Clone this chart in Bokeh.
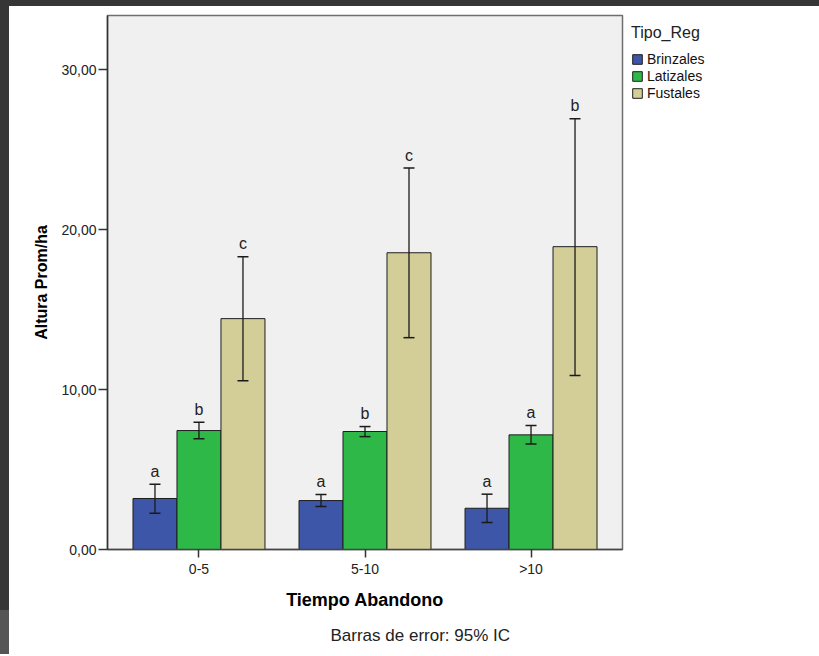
from bokeh.plotting import figure
from bokeh.models import (ColumnDataSource, FactorRange, Range1d, FixedTicker, Whisker, TeeHead,
                          Legend, LegendItem, Title, Div)
from bokeh.layouts import column, row
from bokeh.transform import dodge
from bokeh.core.properties import value
from bokeh.embed import file_html
from bokeh.resources import INLINE

# ---- data ----
categories = ["0-5", "5-10", ">10"]
series_names = ["Brinzales", "Latizales", "Fustales"]

brinzales = [3.19, 3.06, 2.58]
brinzales_lo = [2.27, 2.69, 1.69]
brinzales_hi = [4.08, 3.44, 3.46]
brinzales_letters = ["a", "a", "a"]

latizales = [7.44, 7.38, 7.17]
latizales_lo = [6.92, 7.06, 6.60]
latizales_hi = [7.96, 7.69, 7.75]
latizales_letters = ["b", "b", "a"]

fustales = [14.44, 18.56, 18.94]
fustales_lo = [10.56, 13.25, 10.88]
fustales_hi = [18.31, 23.86, 26.94]
fustales_letters = ["c", "c", "b"]

y_ticks = [0, 10, 20, 30]
y_tick_labels = ["0,00", "10,00", "20,00", "30,00"]

x_title = "Tiempo Abandono"
y_title = "Altura Prom/ha"
legend_title = "Tipo_Reg"
note = "Barras de error: 95% IC"

# ---- styling ----
FONT = "Liberation Sans"
colors = ["#3D56A8", "#2EB848", "#D3CE97"]
bar_w = 0.265
offsets = [-bar_w, 0.0, bar_w]

p = figure(frame_width=515, frame_height=534,
           x_range=FactorRange(factors=categories, range_padding=0.034),
           y_range=Range1d(0, 33.4),
           output_backend="svg", toolbar_location=None,
           min_border_left=98, min_border_right=186, min_border_top=9, min_border_bottom=105)

p.background_fill_color = "#F0F0F0"
p.border_fill_color = "white"
p.outline_line_color = "#6E6E6E"
p.outline_line_width = 1.5
p.xgrid.visible = False
p.ygrid.visible = False

series = [
    (brinzales, brinzales_lo, brinzales_hi, brinzales_letters),
    (latizales, latizales_lo, latizales_hi, latizales_letters),
    (fustales, fustales_lo, fustales_hi, fustales_letters),
]

items = []
for (vals, lo, hi, letters), name, col, off in zip(series, series_names, colors, offsets):
    src = ColumnDataSource(dict(cat=categories, val=vals, lo=lo, hi=hi, let=letters))
    xs = dodge("cat", off, range=p.x_range)
    r = p.vbar(x=xs, top="val", width=bar_w, source=src,
               fill_color=col, line_color="#1E1E1E", line_width=1)
    items.append(LegendItem(label=name, renderers=[r]))
    w = Whisker(source=src, base=xs, upper="hi", lower="lo", level="overlay",
                line_color="#1A1A1A", line_width=1.3,
                upper_head=TeeHead(size=11, line_color="#1A1A1A", line_width=1.5),
                lower_head=TeeHead(size=11, line_color="#1A1A1A", line_width=1.5))
    p.add_layout(w)
    p.text(x=xs, y="hi", text="let", source=src, text_align="center",
           text_baseline="alphabetic", y_offset=-13,
           text_font=value(FONT), text_font_size="16px", text_color="#222222")

# y axis
p.yaxis.ticker = FixedTicker(ticks=y_ticks)
p.yaxis.major_label_overrides = {t: l for t, l in zip(y_ticks, y_tick_labels)}
p.yaxis.minor_tick_line_color = None
p.yaxis.major_tick_in = 0
p.yaxis.major_tick_out = 9
p.yaxis.major_tick_line_color = "#333333"
p.yaxis.major_tick_line_width = 1.5
p.yaxis.axis_line_color = "#333333"
p.yaxis.axis_line_width = 1.5
p.yaxis.major_label_standoff = 2
p.yaxis.major_label_text_font = FONT
p.yaxis.major_label_text_font_size = "14px"
p.yaxis.major_label_text_color = "#222222"
p.yaxis.axis_label = y_title
p.yaxis.axis_label_text_font = FONT
p.yaxis.axis_label_text_font_size = "16px"
p.yaxis.axis_label_text_font_style = "bold"
p.yaxis.axis_label_text_color = "#000000"
p.yaxis.axis_label_standoff = 8

# x axis
p.xaxis.major_tick_in = 0
p.xaxis.major_tick_out = 8
p.xaxis.major_tick_line_color = "#333333"
p.xaxis.major_tick_line_width = 1.5
p.xaxis.axis_line_color = "#444444"
p.xaxis.axis_line_width = 1.5
p.xaxis.major_label_standoff = 3
p.xaxis.major_label_text_font = FONT
p.xaxis.major_label_text_font_size = "14px"
p.xaxis.major_label_text_color = "#222222"
p.xaxis.axis_label = x_title
p.xaxis.axis_label_text_font = FONT
p.xaxis.axis_label_text_font_size = "18px"
p.xaxis.axis_label_text_font_style = "bold"
p.xaxis.axis_label_text_color = "#000000"
p.xaxis.axis_label_standoff = 10

# note below
p.add_layout(Title(text=note, align="left", offset=223, text_font=FONT,
                   text_font_size="17px", text_font_style="normal",
                   text_color="#222222", standoff=22), "below")

# legend
legend = Legend(items=items, title=legend_title, location="top_left",
                margin=0, padding=9,
                title_text_font=FONT, title_text_font_size="16px",
                title_text_font_style="normal", title_text_color="#222222",
                title_standoff=9,
                label_text_font=FONT, label_text_font_size="14px",
                label_text_color="#111111",
                glyph_width=12, glyph_height=12, label_height=12,
                label_standoff=4, spacing=1,
                border_line_alpha=0, background_fill_alpha=0)
p.add_layout(legend, "right")

# dark screenshot frame around the chart
top_bar = Div(text="", width=819, height=6, margin=0,
              styles={"background-color": "#363636"})
left_dark = Div(text="", width=9, height=604, margin=0,
                styles={"background-color": "#363636"})
left_gray = Div(text="", width=9, height=44, margin=0,
                styles={"background-color": "#555555"})
page = column(top_bar, row(column(left_dark, left_gray, spacing=0), p, spacing=0), spacing=0)

open("out.html", "w").write(file_html(page, INLINE))
